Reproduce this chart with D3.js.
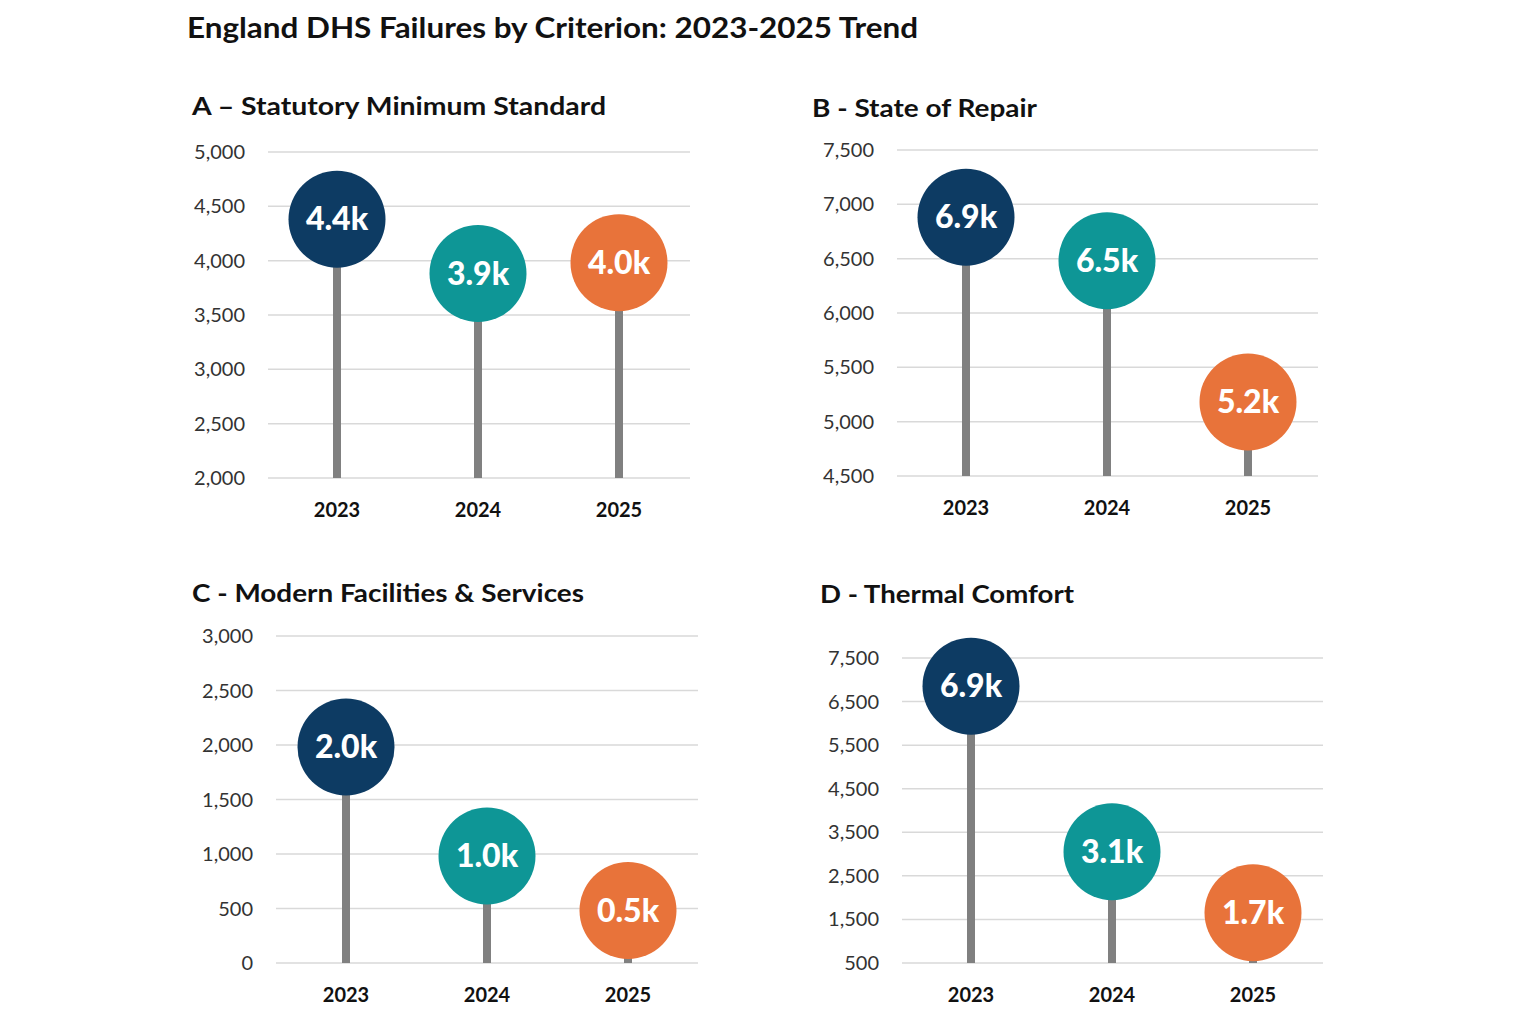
<!DOCTYPE html>
<html><head><meta charset="utf-8">
<script src="https://cdn.jsdelivr.net/npm/d3@7"></script>
<style>body{margin:0;background:#fff;font-family:Lato,"Open Sans",sans-serif}</style>
</head><body>
<script>
var years = ["2023", "2024", "2025"];
var colors = ["#0d3b63", "#0e9696", "#e8733a"];
var titles = ["A \u2013 Statutory Minimum Standard", "B - State of Repair", "C - Modern Facilities & Services", "D - Thermal Comfort"];
var valuesA = [4400, 3900, 4000];
var valuesB = [6900, 6500, 5200];
var valuesC = [2000, 1000, 500];
var valuesD = [6900, 3100, 1700];
var ticksA = [2000, 2500, 3000, 3500, 4000, 4500, 5000];
var ticksB = [4500, 5000, 5500, 6000, 6500, 7000, 7500];
var ticksC = [0, 500, 1000, 1500, 2000, 2500, 3000];
var ticksD = [500, 1500, 2500, 3500, 4500, 5500, 6500, 7500];

var panels = [
  {title: titles[0], tw: 414, vals: valuesA, ticks: ticksA, tx: 192, ty: 115, x0: 268, x1: 690, yTop: 152, yBot: 478, xc: 337},
  {title: titles[1], tw: 225, vals: valuesB, ticks: ticksB, tx: 812, ty: 117, x0: 897, x1: 1318, yTop: 150, yBot: 476, xc: 966},
  {title: titles[2], tw: 392, vals: valuesC, ticks: ticksC, tx: 192, ty: 602, x0: 276, x1: 698, yTop: 636, yBot: 963, xc: 346},
  {title: titles[3], tw: 254, vals: valuesD, ticks: ticksD, tx: 820, ty: 603, x0: 902, x1: 1323, yTop: 658, yBot: 963, xc: 971}
];

var svg = d3.select("body").append("svg").attr("width", 1536).attr("height", 1024);

svg.append("text").attr("x", 187).attr("y", 38).attr("font-size", 29).attr("font-weight", 700)
  .attr("fill", "#111").attr("textLength", 731).attr("lengthAdjust", "spacingAndGlyphs")
  .text("England DHS Failures by Criterion: 2023-2025 Trend");

panels.forEach(function(p) {
  var g = svg.append("g");
  g.append("text").attr("x", p.tx).attr("y", p.ty).attr("font-size", 25).attr("font-weight", 700)
    .attr("fill", "#111").attr("textLength", p.tw).attr("lengthAdjust", "spacingAndGlyphs").text(p.title);
  var y = d3.scaleLinear().domain([p.ticks[0], p.ticks[p.ticks.length - 1]]).range([p.yBot, p.yTop]);
  var step = 141;
  var x = d3.scalePoint().domain(years).range([p.xc, p.xc + 2 * step]);

  g.selectAll(".grid").data(p.ticks).enter().append("line")
    .attr("x1", p.x0).attr("x2", p.x1).attr("y1", d => y(d)).attr("y2", d => y(d))
    .attr("stroke", "#d9d9d9").attr("stroke-width", 1.5);
  g.selectAll(".tick").data(p.ticks).enter().append("text")
    .attr("x", p.x0 - 23).attr("y", d => y(d) + 7).attr("text-anchor", "end")
    .attr("font-size", 20).attr("fill", "#333").text(d => d3.format(",")(d));
  g.selectAll(".yr").data(years).enter().append("text")
    .attr("x", d => x(d)).attr("y", p.yBot + 39).attr("text-anchor", "middle")
    .attr("font-size", 20).attr("font-weight", 700).attr("fill", "#111").text(d => d);

  g.selectAll(".stem").data(p.vals).enter().append("line")
    .attr("x1", (d, i) => x(years[i])).attr("x2", (d, i) => x(years[i]))
    .attr("y1", p.yBot).attr("y2", d => y(d))
    .attr("stroke", "#808080").attr("stroke-width", 8);
  g.selectAll(".dot").data(p.vals).enter().append("circle")
    .attr("cx", (d, i) => x(years[i])).attr("cy", d => y(d) + 2).attr("r", 48.5)
    .attr("fill", (d, i) => colors[i]);
  g.selectAll(".lbl").data(p.vals).enter().append("text")
    .attr("x", (d, i) => x(years[i])).attr("y", d => y(d) + 13).attr("text-anchor", "middle")
    .attr("font-size", 32).attr("font-weight", 900).attr("fill", "#fff")
    .text(d => (d / 1000).toFixed(1) + "k");
});
</script>
</body></html>
